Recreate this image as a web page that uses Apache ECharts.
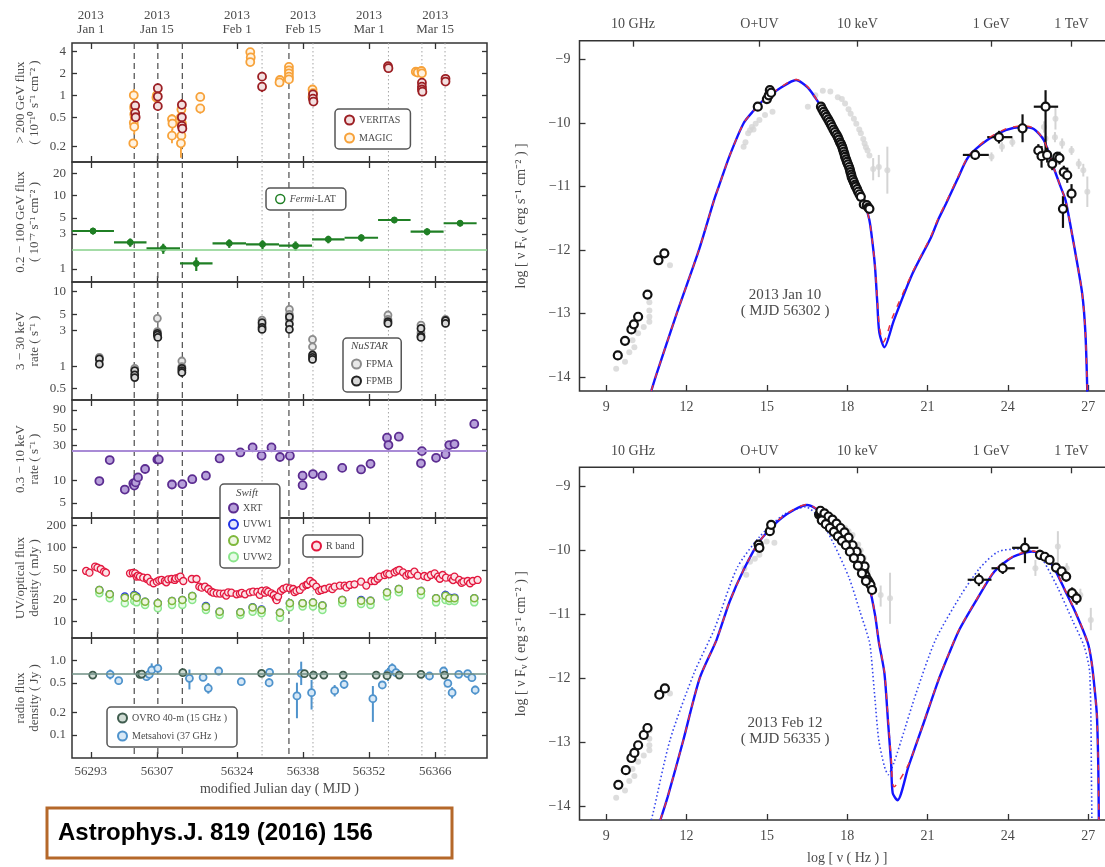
<!DOCTYPE html>
<html>
<head>
<meta charset="utf-8">
<script src="https://cdn.jsdelivr.net/npm/echarts@6/dist/echarts.min.js"></script>
<style>
  html, body { margin: 0; padding: 0; background: #fff; }
  #chart { width: 1105px; height: 867px; }
</style>
</head>
<body>
<div id="chart"></div>
<script>
// ---------------- light-curve data (MJD, value) ----------------
const mjdTicks = [56293, 56307, 56324, 56338, 56352, 56366];
const dateLabels = ['2013\nJan 1', '2013\nJan 15', '2013\nFeb 1', '2013\nFeb 15', '2013\nMar 1', '2013\nMar 15'];
const dashedDays = [56302.2, 56307.2, 56312.4, 56335.0];
const dottedDays = [56329.3, 56340.1, 56356.1, 56363.2, 56368.1];

// > 200 GeV flux: [MJD, flux, error]
const vheMagic = [
  [56302.1, 1.0, 0.22], [56302.2, 0.71, 0.12], [56302.2, 0.66, 0.12], [56302.2, 0.55, 0.1],
  [56302.3, 0.50, 0.1], [56302.1, 0.42, 0.08], [56302.2, 0.37, 0.08], [56302.0, 0.22, 0.03],
  [56307.0, 1.0, 0.15], [56306.9, 0.93, 0.15],
  [56310.2, 0.47, 0.08], [56310.3, 0.41, 0.08], [56310.2, 0.28, 0.06],
  [56312.2, 0.64, 0.25], [56312.1, 0.50, 0.15], [56312.3, 0.41, 0.1], [56312.2, 0.28, 0.1], [56312.1, 0.22, 0.08],
  [56316.2, 0.95, 0.12], [56316.2, 0.66, 0.1],
  [56326.8, 3.9, 0.4], [56326.9, 3.3, 0.3], [56326.8, 2.85, 0.3],
  [56333.1, 1.62, 0.15], [56333.0, 1.5, 0.15],
  [56335.0, 2.45, 0.25], [56335.0, 2.2, 0.2], [56335.0, 2.0, 0.2], [56335.0, 1.8, 0.2], [56335.0, 1.65, 0.2],
  [56340.0, 1.2, 0.15], [56340.1, 1.07, 0.15], [56340.0, 0.95, 0.12],
  [56361.9, 2.1, 0.15], [56362.3, 2.05, 0.15], [56363.1, 2.15, 0.15], [56363.2, 2.0, 0.15]
];
const vheVeritas = [
  [56302.4, 0.72, 0.12], [56302.4, 0.57, 0.1], [56302.5, 0.5, 0.1],
  [56307.2, 1.25, 0.15], [56307.2, 0.96, 0.12], [56307.2, 0.71, 0.1],
  [56312.3, 0.74, 0.15], [56312.3, 0.5, 0.1], [56312.3, 0.38, 0.08], [56312.4, 0.35, 0.08],
  [56329.3, 1.8, 0.2], [56329.3, 1.31, 0.2],
  [56340.1, 1.03, 0.12], [56340.1, 0.9, 0.12], [56340.2, 0.82, 0.1],
  [56356.0, 2.5, 0.2], [56356.1, 2.35, 0.2],
  [56363.2, 1.49, 0.15], [56363.2, 1.31, 0.12], [56363.2, 1.2, 0.12], [56363.3, 1.12, 0.12],
  [56368.2, 1.68, 0.15], [56368.2, 1.54, 0.12]
];

// Fermi-LAT weekly bins: [start MJD, end MJD, flux, error]
const fermiBins = [
  [56289.0, 56297.9, 3.30, 0.35], [56297.9, 56304.8, 2.31, 0.3], [56304.8, 56311.9, 1.91, 0.3],
  [56311.9, 56318.8, 1.19, 0.25], [56318.8, 56325.9, 2.24, 0.3], [56325.9, 56332.9, 2.17, 0.3],
  [56332.9, 56339.9, 2.08, 0.3], [56339.9, 56346.8, 2.54, 0.3], [56346.8, 56353.9, 2.67, 0.3],
  [56353.9, 56360.8, 4.66, 0.45], [56360.8, 56367.8, 3.23, 0.35], [56367.8, 56374.8, 4.21, 0.4]
];
const fermiMean = 1.85;

// NuSTAR 3-30 keV rates
const nustarFPMA = [
  [56294.8, 1.31], [56294.8, 1.2], [56302.3, 0.93], [56302.3, 0.8], [56307.1, 4.38], [56307.1, 2.9],
  [56312.3, 1.17], [56312.3, 0.98], [56329.3, 4.16], [56329.3, 3.56], [56335.1, 5.77], [56335.1, 4.95],
  [56335.1, 4.24], [56340.0, 2.28], [56340.0, 1.82], [56356.0, 4.86], [56356.0, 4.24], [56363.0, 3.56],
  [56363.0, 2.81], [56368.2, 4.24], [56368.2, 3.95]
];
const nustarFPMB = [
  [56294.8, 1.25], [56294.8, 1.06], [56302.3, 0.87], [56302.3, 0.76], [56302.3, 0.70], [56307.1, 2.75],
  [56307.1, 2.6], [56307.2, 2.43], [56312.3, 0.93], [56312.3, 0.87], [56312.3, 0.82], [56329.3, 3.83],
  [56329.3, 3.31], [56329.3, 3.11], [56335.1, 4.6], [56335.1, 3.67], [56335.1, 3.11], [56340.0, 1.41],
  [56340.0, 1.31], [56340.0, 1.23], [56356.0, 3.95], [56356.0, 3.75], [56363.0, 3.21], [56363.0, 2.53],
  [56363.0, 2.43], [56368.2, 4.1], [56368.2, 3.75]
];

// Swift-XRT 0.3-10 keV rates
const xrtRate = [
  [56294.8, 9.9], [56297.0, 19.0], [56300.2, 7.6], [56302.0, 9.2], [56302.2, 8.6], [56302.5, 9.5],
  [56303.0, 11.1], [56304.5, 14.4], [56307.1, 19.4], [56307.4, 19.4], [56310.2, 8.9], [56312.4, 9.0],
  [56314.5, 10.5], [56317.4, 11.7], [56320.3, 20.0], [56324.7, 24.1], [56327.3, 28.2], [56329.2, 21.8],
  [56331.3, 28.2], [56333.1, 20.9], [56335.2, 21.8], [56337.9, 11.7], [56337.9, 8.7], [56340.1, 12.3],
  [56342.1, 11.7], [56346.3, 14.9], [56350.3, 14.2], [56352.3, 16.9], [56355.8, 38.1], [56356.1, 30.3],
  [56358.3, 39.3], [56363.0, 17.2], [56363.2, 25.1], [56366.2, 20.4], [56368.2, 22.7], [56369.0, 30.3],
  [56370.1, 31.3], [56374.3, 58.4]
];
const xrtMean = 25.2;

// R-band flux density (mJy)
const rBand = [
  [56292.0, 48.4], [56292.7, 45.9], [56293.9, 55.4], [56294.4, 53.7], [56295.1, 51.5], [56295.8, 47.4], [56296.2, 45.9],
  [56301.3, 45.0], [56301.9, 45.5], [56302.4, 45.0], [56302.7, 40.6], [56303.0, 42.0], [56303.4, 40.6], [56304.1, 39.3],
  [56304.9, 37.7], [56305.0, 39.0], [56305.6, 34.7], [56306.3, 33.0], [56307.0, 34.7], [56307.5, 36.1], [56308.0, 36.6],
  [56308.7, 35.4], [56309.0, 34.0], [56309.4, 37.3], [56310.1, 37.7], [56310.8, 36.6], [56311.0, 38.5], [56311.6, 39.3],
  [56312.0, 40.6], [56312.6, 35.4], [56314.4, 37.7], [56315.4, 37.7], [56316.0, 29.7], [56316.5, 28.8], [56317.2, 29.7],
  [56317.9, 27.6], [56318.5, 25.5], [56319.0, 24.6], [56319.7, 24.1], [56320.4, 23.9], [56321.2, 23.9], [56321.7, 22.5],
  [56322.1, 24.9], [56322.8, 24.6], [56323.9, 23.4], [56324.6, 23.9], [56325.0, 24.5], [56325.7, 23.4], [56326.7, 24.9],
  [56327.4, 25.4], [56328.3, 25.2], [56328.8, 23.0], [56329.2, 26.0], [56329.9, 24.6], [56330.2, 26.5], [56330.6, 25.4],
  [56331.3, 24.1], [56331.8, 22.9], [56332.2, 20.7], [56332.4, 19.5], [56332.7, 21.8], [56333.3, 26.0], [56333.8, 27.6],
  [56334.5, 28.8], [56335.2, 28.2], [56335.9, 27.6], [56336.2, 25.0], [56336.6, 26.0], [56337.3, 26.8], [56338.0, 29.7],
  [56338.7, 31.3], [56339.0, 32.0], [56339.5, 35.4], [56340.1, 33.0], [56340.8, 29.7], [56341.4, 26.0], [56341.9, 26.8],
  [56342.6, 27.6], [56343.6, 28.8], [56344.2, 27.5], [56344.7, 29.7], [56345.8, 30.7], [56346.8, 30.7], [56347.2, 29.0],
  [56347.9, 31.3], [56348.9, 31.9], [56350.3, 34.7], [56351.4, 30.7], [56352.5, 35.4], [56353.2, 35.4], [56353.8, 38.0],
  [56354.2, 40.6], [56355.3, 42.7], [56355.8, 44.5], [56356.3, 43.6], [56357.4, 46.4], [56357.9, 48.5], [56358.4, 49.9],
  [56359.2, 46.4], [56359.9, 41.8], [56360.4, 44.0], [56360.9, 43.6], [56361.6, 47.4], [56362.3, 41.8], [56363.7, 41.4],
  [56364.4, 40.0], [56365.1, 42.7], [56365.9, 45.0], [56366.6, 40.6], [56367.0, 38.0], [56367.6, 42.7], [56368.3, 39.3],
  [56369.4, 38.5], [56369.8, 36.5], [56370.1, 40.6], [56371.1, 36.6], [56371.6, 33.5], [56372.0, 34.7], [56372.9, 35.4],
  [56373.4, 33.0], [56374.0, 35.4], [56375.0, 36.6]
];

// Swift-UVOT: [MJD, UVW1, UVM2, UVW2] (mJy)
const uvot = [
  [56294.8, 26.8, 26.8, 24.1], [56297.0, 23.4, 23.4, 20.7], [56300.2, 21.8, 21.1, 17.7], [56302.2, 22.9, 22.4, 19.0],
  [56302.7, 21.8, 21.1, 18.2], [56304.5, 18.6, 18.6, 16.8], [56307.2, 17.7, 17.7, 15.1], [56310.2, 19.0, 19.0, 16.8],
  [56312.4, 19.6, 19.6, 16.8], [56314.5, 22.2, 22.2, 19.6], [56317.4, 16.3, 15.9, 14.4], [56320.3, 13.6, 13.6, 12.3],
  [56324.7, 13.4, 13.4, 12.3], [56327.3, 15.6, 15.5, 13.6], [56329.2, 14.6, 14.4, 13.0], [56333.1, 13.2, 13.2, 11.3],
  [56335.2, 17.7, 17.7, 15.6], [56337.9, 17.7, 17.7, 16.0], [56340.1, 18.1, 18.1, 16.0], [56342.1, 16.5, 16.5, 14.4],
  [56346.3, 19.6, 19.6, 17.7], [56350.3, 19.6, 19.2, 17.3], [56352.3, 19.2, 19.2, 16.8], [56355.8, 24.7, 24.7, 21.8],
  [56358.3, 27.6, 27.6, 24.9], [56363.0, 26.0, 26.0, 22.9], [56366.2, 20.7, 20.7, 18.2], [56368.2, 22.9, 22.4, 19.6],
  [56369.0, 21.1, 20.7, 19.0], [56370.1, 21.1, 20.7, 19.0], [56374.3, 20.7, 20.7, 18.2]
];

// radio flux density (Jy)
const ovro = [
  [56293.4, 0.641], [56303.4, 0.655], [56303.8, 0.66], [56312.5, 0.690], [56329.2, 0.676], [56338.3, 0.669],
  [56340.2, 0.641], [56342.4, 0.641], [56346.5, 0.641], [56353.5, 0.641], [56355.8, 0.628], [56358.4, 0.641],
  [56363.0, 0.655], [56368.0, 0.641]
];
const ovroMean = 0.655;
// Metsahovi: [MJD, flux, low, high]
const metsahovi = [
  [56297.1, 0.655, 0.56, 0.76], [56298.9, 0.538, 0.50, 0.58], [56304.8, 0.61, 0.57, 0.65], [56305.4, 0.655, 0.61, 0.70],
  [56305.9, 0.749, 0.61, 0.92], [56307.2, 0.789, 0.73, 0.85], [56313.9, 0.579, 0.41, 0.76], [56316.8, 0.597, 0.55, 0.65],
  [56317.9, 0.424, 0.36, 0.50], [56320.1, 0.726, 0.64, 0.82], [56324.9, 0.522, 0.48, 0.56], [56330.9, 0.697, 0.61, 0.79],
  [56330.8, 0.506, 0.44, 0.58], [56336.7, 0.335, 0.168, 0.506], [56337.6, 0.676, 0.47, 0.97], [56339.8, 0.371, 0.22, 0.55],
  [56344.7, 0.395, 0.33, 0.47], [56346.7, 0.480, 0.42, 0.55], [56352.8, 0.308, 0.15, 0.456], [56354.8, 0.471, 0.43, 0.52],
  [56356.0, 0.676, 0.53, 0.80], [56356.9, 0.789, 0.68, 0.92], [56357.7, 0.690, 0.64, 0.74], [56364.8, 0.622, 0.58, 0.67],
  [56367.8, 0.726, 0.67, 0.79], [56368.7, 0.496, 0.45, 0.55], [56369.6, 0.371, 0.31, 0.44], [56371.0, 0.655, 0.61, 0.70],
  [56372.9, 0.669, 0.62, 0.72], [56373.8, 0.590, 0.55, 0.64], [56374.5, 0.403, 0.35, 0.46]
];

// ---------------- SED data (log nu, log nuFnu) ----------------
const sedTicks = [9, 12, 15, 18, 21, 24, 27];
const sedBandTicks = [10, 14.72, 18.38, 23.38, 26.38];
const sedBandLabels = ['10 GHz', 'O+UV', '10 keV', '1 GeV', '1 TeV'];
const sedYTicks = [-14, -13, -12, -11, -10, -9];

const sedArchiveRadio = [[9.37, -13.87], [9.70, -13.76], [9.86, -13.61], [9.98, -13.42], [10.05, -13.53], [10.19, -13.31],
  [10.40, -13.21], [10.61, -13.13], [10.61, -13.05], [10.61, -12.95], [10.61, -12.82], [11.38, -12.24]];

// 2013 Jan 10
const sedJanRadio = [[9.43, -13.66], [9.70, -13.43], [9.94, -13.25], [10.03, -13.17], [10.19, -13.05], [10.54, -12.70], [10.95, -12.16], [11.17, -12.05]];
const sedJanOpt = [[14.66, -9.74], [15.00, -9.62], [15.07, -9.56], [15.11, -9.48], [15.16, -9.52]];
const sedJanXray = [[17.02, -9.74], [17.07, -9.78], [17.12, -9.82], [17.18, -9.86], [17.23, -9.90], [17.29, -9.94], [17.34, -9.98],
  [17.39, -10.02], [17.44, -10.06], [17.49, -10.10], [17.54, -10.14], [17.60, -10.18], [17.65, -10.22], [17.69, -10.26], [17.73, -10.30],
  [17.77, -10.33], [17.81, -10.37], [17.84, -10.41], [17.87, -10.45], [17.90, -10.49], [17.92, -10.53], [17.96, -10.57], [17.99, -10.61],
  [18.03, -10.65], [18.07, -10.69], [18.10, -10.73], [18.12, -10.77], [18.15, -10.81], [18.17, -10.85], [18.21, -10.89], [18.25, -10.93],
  [18.29, -10.97], [18.32, -11.00], [18.37, -11.04], [18.41, -11.08], [18.46, -11.12], [18.51, -11.16], [18.62, -11.28], [18.73, -11.29],
  [18.79, -11.33], [18.83, -11.35]];
// [x, y, xlow, xhigh, ylow, yhigh]
const sedJanGeV = [[22.78, -10.50, 22.32, 23.29, -10.58, -10.42], [23.67, -10.22, 23.23, 24.17, -10.32, -10.12],
  [24.55, -10.08, 24.55, 24.55, -10.30, -9.86], [25.41, -9.74, 24.97, 25.88, -10.53, -9.48]];
// [x, y, ylow, yhigh]
const sedJanTeV = [[25.14, -10.43, -10.53, -10.33], [25.26, -10.52, -10.70, -10.36], [25.47, -10.50, -10.62, -10.38],
  [25.66, -10.64, -10.74, -10.54], [25.85, -10.53, -10.61, -10.45], [25.93, -10.55, -10.65, -10.45], [26.06, -11.35, -11.65, -11.15],
  [26.09, -10.77, -10.87, -10.67], [26.22, -10.82, -10.94, -10.70], [26.38, -11.11, -11.26, -10.96]];
const sedJanGrayOpt = [[14.13, -10.37], [14.20, -10.30], [14.30, -10.16], [14.37, -10.11], [14.44, -10.06], [14.50, -10.10],
  [14.58, -10.01], [14.72, -9.95], [14.93, -9.87], [15.21, -9.82]];
const sedJanGrayXray = [[16.53, -9.74], [16.81, -9.56], [17.09, -9.49], [17.37, -9.50], [17.65, -9.59], [17.80, -9.62], [17.92, -9.69],
  [18.05, -9.78], [18.13, -9.85], [18.25, -9.93], [18.34, -10.01], [18.45, -10.10], [18.51, -10.16], [18.60, -10.25], [18.65, -10.32],
  [18.70, -10.38], [18.76, -10.43], [18.83, -10.51]];
const sedJanGrayErr = [[18.97, -10.72, -10.90, -10.55], [19.18, -10.69, -10.85, -10.50], [19.50, -10.74, -11.11, -10.37],
  [23.39, -10.53, -10.60, -10.46], [23.78, -10.37, -10.45, -10.30], [24.17, -10.30, -10.37, -10.23], [25.35, -10.06, -10.15, -9.97],
  [25.41, -10.24, -10.33, -10.15], [25.78, -9.93, -10.10, -9.75], [25.76, -10.22, -10.30, -10.14], [26.03, -10.32, -10.40, -10.24],
  [26.38, -10.43, -10.50, -10.36], [26.65, -10.64, -10.72, -10.56], [26.82, -10.74, -10.84, -10.64], [26.97, -11.08, -11.32, -10.84]];
const sedJanModelBlue = [[10.68, -14.22], [10.84, -14.0], [11.63, -13.0], [12.46, -12.0], [13.02, -11.22], [13.2, -11.0], [13.62, -10.5],
  [14.13, -10.0], [14.51, -9.80], [14.86, -9.64], [15.56, -9.43], [16.09, -9.32], [16.53, -9.44], [16.95, -9.69], [17.65, -10.16],
  [18.07, -10.64], [18.41, -11.0], [18.62, -11.22], [18.83, -11.53], [18.95, -11.9], [19.04, -12.27], [19.12, -12.8], [19.2, -13.3],
  [19.39, -13.53], [19.74, -13.11], [20.44, -12.37], [21.13, -11.8], [21.4, -11.52], [21.69, -11.27], [22.1, -10.9], [22.53, -10.53],
  [23.22, -10.27], [23.92, -10.11], [24.54, -10.06], [24.97, -10.09], [25.35, -10.27], [25.66, -10.64], [25.97, -11.0], [26.16, -11.22],
  [26.53, -12.06], [26.78, -12.69], [26.9, -13.32], [26.97, -14.23]];
const sedJanModelRed = [[10.68, -14.22], [10.84, -14.0], [11.63, -13.0], [12.46, -12.0], [13.02, -11.22], [13.2, -11.0], [13.62, -10.5],
  [14.13, -10.0], [14.51, -9.80], [14.86, -9.64], [15.56, -9.42], [16.09, -9.31], [16.53, -9.43], [16.95, -9.69], [17.65, -10.16],
  [18.07, -10.64], [18.41, -11.0], [18.62, -11.22], [18.83, -11.53], [18.95, -11.9], [19.04, -12.25], [19.12, -12.75], [19.2, -13.2],
  [19.35, -13.45], [19.7, -13.05], [20.44, -12.35], [21.13, -11.78], [21.4, -11.5], [21.69, -11.25], [22.1, -10.88], [22.53, -10.52],
  [23.22, -10.25], [23.92, -10.09], [24.54, -10.04], [24.97, -10.08], [25.35, -10.27], [25.66, -10.64], [25.97, -11.0], [26.16, -11.22],
  [26.53, -12.06], [26.78, -12.69], [26.9, -13.32], [26.97, -14.23]];

// 2013 Feb 12
const sedFebRadio = [[9.45, -13.67], [9.73, -13.44], [9.94, -13.25], [10.05, -13.17], [10.19, -13.05], [10.40, -12.89], [10.54, -12.78], [10.98, -12.26], [11.19, -12.16]];
const sedFebOpt = [[14.69, -9.91], [14.72, -9.96], [15.11, -9.70], [15.16, -9.60]];
const sedFebXray = [
  [16.95, -9.44], [17.02, -9.45], [17.09, -9.47], [17.16, -9.50], [17.23, -9.52], [17.30, -9.55], [17.37, -9.57], [17.44, -9.60],
  [17.51, -9.63], [17.58, -9.66], [17.65, -9.70], [17.72, -9.73], [17.79, -9.76], [17.86, -9.80], [17.92, -9.83], [18.00, -9.87],
  [18.07, -9.91], [18.13, -9.96], [18.20, -10.02], [18.27, -10.07], [18.34, -10.12], [18.41, -10.17], [18.48, -10.23], [18.55, -10.28],
  [18.62, -10.33], [18.69, -10.40], [18.76, -10.46], [18.82, -10.50], [18.87, -10.54], [18.93, -10.62],
  [17.00, -9.38], [17.15, -9.42], [17.30, -9.47], [17.45, -9.52], [17.60, -9.58], [17.75, -9.65], [17.90, -9.72], [18.05, -9.80],
  [18.20, -9.92], [18.35, -10.02], [18.50, -10.13], [18.65, -10.25],
  [17.05, -9.53], [17.20, -9.59], [17.35, -9.65], [17.50, -9.71], [17.65, -9.78], [17.80, -9.85], [17.95, -9.92], [18.10, -10.02],
  [18.25, -10.12], [18.40, -10.24], [18.55, -10.36], [18.70, -10.48]];
const sedFebGeV = [[22.92, -10.46, 22.5, 23.39, -10.56, -10.36], [23.81, -10.28, 23.39, 24.26, -10.37, -10.19],
  [24.64, -9.96, 24.16, 25.14, -10.20, -9.80]];
const sedFebTeV = [[25.20, -10.07, -10.15, -9.99], [25.38, -10.10, -10.17, -10.03], [25.56, -10.15, -10.22, -10.08],
  [25.80, -10.27, -10.34, -10.20], [26.01, -10.33, -10.40, -10.26], [26.18, -10.41, -10.49, -10.33], [26.40, -10.67, -10.76, -10.58],
  [26.57, -10.75, -10.85, -10.65]];
const sedFebGrayOpt = [[14.16, -10.28], [14.23, -10.38], [14.37, -10.18], [14.55, -10.13], [14.72, -10.07], [14.99, -9.86], [15.28, -9.88]];
const sedFebGrayXray = [[17.92, -9.65], [18.05, -9.70], [18.2, -9.76], [18.41, -9.91], [18.5, -10.0], [18.62, -10.12], [18.76, -10.33], [18.83, -10.44]];
const sedFebGrayErr = [[19.25, -10.70, -10.88, -10.55], [19.60, -10.75, -11.15, -10.35], [25.03, -10.28, -10.40, -10.15],
  [25.87, -9.94, -10.20, -9.70], [26.2, -10.28, -10.36, -10.20], [26.71, -10.70, -10.80, -10.60], [27.10, -11.09, -11.25, -10.90]];
const sedFebModelBlue = [[11.02, -14.22], [11.30, -13.85], [11.86, -13.0], [12.49, -12.0], [13.12, -11.40], [13.61, -10.80],
  [14.16, -10.28], [14.72, -9.86], [15.56, -9.49], [16.5, -9.29], [17.23, -9.49], [17.92, -9.86], [18.48, -10.28], [18.83, -10.59],
  [19.04, -11.01], [19.18, -11.43], [19.39, -11.92], [19.53, -12.71], [19.64, -13.33], [19.70, -13.80], [19.88, -13.91], [20.29, -13.38],
  [20.85, -12.71], [21.41, -12.03], [21.8, -11.62], [22.18, -11.25], [22.8, -10.80], [23.5, -10.33], [24.2, -10.10], [24.9, -10.02],
  [25.31, -10.07], [25.73, -10.28], [26.15, -10.64], [26.57, -11.01], [26.99, -11.45], [27.13, -11.75], [27.25, -12.2], [27.33, -12.6],
  [27.38, -13.4], [27.40, -14.22]];
const sedFebModelRed = [[11.02, -14.22], [11.30, -13.85], [11.86, -13.0], [12.49, -12.0], [13.12, -11.40], [13.61, -10.80],
  [14.16, -10.28], [14.72, -9.86], [15.56, -9.48], [16.5, -9.28], [17.23, -9.48], [17.92, -9.85], [18.48, -10.27], [18.83, -10.58],
  [19.04, -11.0], [19.18, -11.42], [19.39, -11.9], [19.53, -12.65], [19.64, -13.25], [19.75, -13.70], [20.29, -13.35],
  [20.85, -12.70], [21.41, -12.02], [21.8, -11.61], [22.18, -11.24], [22.8, -10.79], [23.5, -10.32], [24.2, -10.09], [24.9, -10.01],
  [25.31, -10.06], [25.73, -10.27], [26.15, -10.63], [26.57, -11.0], [26.99, -11.45], [27.13, -11.75], [27.25, -12.2], [27.33, -12.6],
  [27.38, -13.4], [27.40, -14.22]];
const sedFebModelDotted = [[10.68, -14.22], [10.75, -14.11], [11.38, -12.97], [12.28, -11.92], [13.05, -11.22], [13.88, -10.28],
  [14.72, -9.79], [15.6, -9.45], [16.45, -9.32], [16.95, -9.49], [17.51, -9.91], [18.07, -10.43], [18.48, -10.96], [18.83, -11.43],
  [18.90, -11.66], [19.04, -12.34], [19.18, -12.97], [19.39, -13.38], [19.53, -13.51], [19.74, -13.33], [20.02, -12.97], [20.57, -12.24],
  [21.3, -11.40], [22.25, -10.70], [22.95, -10.28], [23.64, -10.02], [24.4, -9.98], [25.0, -10.02], [25.31, -10.15], [25.87, -10.59],
  [26.43, -11.11], [26.85, -11.5], [27.06, -11.92], [27.13, -13.8], [27.14, -14.22]];

// ---------------- styling ----------------
const FONT = 'Liberation Serif';
const INK = '#4a4a4a';
const FRAME = '#333';

function nearestLabel(values, labels) {
  return function (v) {
    let best = 0, bd = Infinity;
    for (let i = 0; i < values.length; i++) {
      const d = Math.abs(values[i] - v);
      if (d < bd) { bd = d; best = i; }
    }
    return labels[best];
  };
}

const option = {
  animation: false,
  backgroundColor: '#fff',
  textStyle: { fontFamily: FONT },
  grid: [], xAxis: [], yAxis: [], series: [], legend: [], graphic: []
};

// ---------------- left stacked light-curve panels ----------------
const panels = [
  { top: 43, h: 119, min: 0.122, max: 5.2, ticks: [0.2, 0.5, 1, 2, 4], labels: ['0.2', '0.5', '1', '2', '4'],
    name: '> 200 GeV flux\n( 10⁻¹⁰ s⁻¹ cm⁻² )' },
  { top: 162, h: 120, min: 0.665, max: 28.8, ticks: [1, 3, 5, 10, 20], labels: ['1', '3', '5', '10', '20'],
    name: '0.2 − 100 GeV flux\n( 10⁻⁷ s⁻¹ cm⁻² )' },
  { top: 282, h: 118, min: 0.35, max: 13.5, ticks: [0.5, 1, 3, 5, 10], labels: ['0.5', '1', '3', '5', '10'],
    name: '3 − 30 keV\nrate ( s⁻¹ )' },
  { top: 400, h: 118, min: 3.14, max: 123, ticks: [5, 10, 30, 50, 90], labels: ['5', '10', '30', '50', '90'],
    name: '0.3 − 10 keV\nrate ( s⁻¹ )' },
  { top: 518, h: 120, min: 6.0, max: 252, ticks: [10, 20, 50, 100, 200], labels: ['10', '20', '50', '100', '200'],
    name: 'UV/optical flux\ndensity ( mJy )' },
  { top: 638, h: 120, min: 0.049, max: 2.02, ticks: [0.1, 0.2, 0.5, 1], labels: ['0.1', '0.2', '0.5', '1.0'],
    name: 'radio flux\ndensity ( Jy )' }
];

const vlineData = dashedDays.map(d => [d, 1, 0]).concat(dottedDays.map(d => [d, 1, 1]));

panels.forEach((p, i) => {
  option.grid.push({ left: 72, top: p.top, width: 415, height: p.h, show: true, borderColor: FRAME, borderWidth: 1.5,
    backgroundColor: 'rgba(0,0,0,0)', containLabel: false, outerBoundsMode: 'none' });
  const xBase = {
    type: 'value', gridIndex: i, min: 56289, max: 56377,
    axisLine: { show: false }, splitLine: { show: false },
    axisTick: { show: true, inside: true, length: 6, lineStyle: { color: FRAME, width: 1.3 }, customValues: mjdTicks },
  };
  option.xAxis.push(Object.assign({}, xBase, {
    position: 'bottom',
    axisLabel: { show: i === 5, customValues: mjdTicks, margin: 7, fontFamily: FONT, fontSize: 13, color: INK,
      formatter: v => String(Math.round(v)) },
    name: i === 5 ? 'modified Julian day ( MJD )' : '', nameLocation: 'middle', nameGap: 24,
    nameTextStyle: { fontFamily: FONT, fontSize: 14, color: INK }
  }));
  option.xAxis.push(Object.assign({}, xBase, {
    position: 'top',
    axisLabel: { show: i === 0, customValues: mjdTicks, margin: 6, fontFamily: FONT, fontSize: 13, lineHeight: 14, color: INK,
      formatter: nearestLabel(mjdTicks, dateLabels) }
  }));
  const yBase = {
    type: 'log', logBase: 10, gridIndex: i, min: p.min, max: p.max,
    axisLine: { show: false }, splitLine: { show: false }, minorTick: { show: false },
    axisTick: { show: true, inside: true, length: 5, lineStyle: { color: FRAME, width: 1.3 }, customValues: p.ticks }
  };
  const logLabel = v => {
    let best = 0, bd = Infinity;
    p.ticks.forEach((t, k) => { const d = Math.abs(Math.log10(t) - Math.log10(v)); if (d < bd) { bd = d; best = k; } });
    return p.labels[best];
  };
  option.yAxis.push(Object.assign({}, yBase, {
    position: 'left',
    axisLabel: { show: true, customValues: p.ticks, margin: 6, fontFamily: FONT, fontSize: 13, color: INK, formatter: logLabel },
    name: p.name, nameLocation: 'middle', nameRotate: 90, nameGap: 30,
    nameTextStyle: { fontFamily: FONT, fontSize: 13, lineHeight: 14, color: INK }
  }));
  option.yAxis.push(Object.assign({}, yBase, { position: 'right', axisLabel: { show: false } }));

  // vertical guide lines marking the SED epochs and NuSTAR pointings
  option.series.push({
    type: 'custom', xAxisIndex: 2 * i, yAxisIndex: 2 * i, data: vlineData, z: 1, silent: true,
    renderItem: function (params, api) {
      const x = api.coord([api.value(0), api.value(1)])[0];
      const cs = params.coordSys;
      const dotted = api.value(2) === 1;
      return {
        type: 'line', shape: { x1: x, y1: cs.y, x2: x, y2: cs.y + cs.height },
        style: dotted ? { stroke: '#a5a5a5', lineWidth: 1, lineDash: [1.5, 2.5] }
                      : { stroke: '#5a5a5a', lineWidth: 1.3, lineDash: [6, 4] }
      };
    }
  });
});

function ax(i) { return { xAxisIndex: 2 * i, yAxisIndex: 2 * i }; }

function ring(name, data, axes, stroke, fill, size, bw, z) {
  return Object.assign({
    type: 'scatter', name: name, data: data, symbol: 'circle', symbolSize: size,
    itemStyle: { color: fill, borderColor: stroke, borderWidth: bw, opacity: 1 },
    emphasis: { disabled: true }, silent: true, z: z || 4
  }, axes);
}

// error bars: items are [x, y, xlow, xhigh, ylow, yhigh]
function errBars(data, axes, color, width, z) {
  return Object.assign({
    type: 'custom', data: data, z: z || 3, silent: true,
    renderItem: function (params, api) {
      const x = api.value(0), y = api.value(1);
      const xl = api.value(2), xh = api.value(3), yl = api.value(4), yh = api.value(5);
      const children = [];
      if (yl !== yh) {
        const a = api.coord([x, yl]), b = api.coord([x, yh]);
        children.push({ type: 'line', shape: { x1: a[0], y1: a[1], x2: b[0], y2: b[1] }, style: { stroke: color, lineWidth: width } });
      }
      if (xl !== xh) {
        const a = api.coord([xl, y]), b = api.coord([xh, y]);
        children.push({ type: 'line', shape: { x1: a[0], y1: a[1], x2: b[0], y2: b[1] }, style: { stroke: color, lineWidth: width } });
      }
      return { type: 'group', children: children };
    }
  }, axes);
}

function hline(value, axes, color, width) {
  return Object.assign({
    type: 'line', data: [], silent: true, z: 2,
    markLine: { silent: true, symbol: 'none', label: { show: false }, animation: false,
      lineStyle: { color: color, width: width, type: 'solid' }, data: [{ yAxis: value }] }
  }, axes);
}

const C = {
  veritas: '#9c1f24', magic: '#f7a23a', fermi: '#1f7f24', fermiLine: '#86d08a',
  fpma: '#8c8c8c', fpmb: '#222', xrt: '#5c2d91', xrtFill: '#b7a0da', xrtLine: '#a98bd6',
  uvw1: '#2233e6', uvm2: '#7fb83c', uvw2: '#8ae58a', rband: '#e3173e',
  ovro: '#3f5c4e', mets: '#4f93cc', radioLine: '#6f8f85'
};

// panel 1: VHE
const vheErr = arr => arr.map(d => [d[0], d[1], d[0], d[0], d[1] - d[2], d[1] + d[2]]);
option.series.push(errBars(vheErr(vheMagic), ax(0), C.magic, 1.8));
option.series.push(errBars(vheErr(vheVeritas), ax(0), C.veritas, 1.8));
option.series.push(ring('MAGIC', vheMagic.map(d => [d[0], d[1]]), ax(0), C.magic, '#fff3e2', 8, 1.8));
option.series.push(ring('VERITAS', vheVeritas.map(d => [d[0], d[1]]), ax(0), C.veritas, '#f3e0e0', 8, 1.8));

// panel 2: Fermi-LAT
option.series.push(hline(fermiMean, ax(1), C.fermiLine, 1.5));
option.series.push(errBars(fermiBins.map(b => [(b[0] + b[1]) / 2, b[2], b[0], b[1], b[2] - b[3], b[2] + b[3]]), ax(1), C.fermi, 2.2));
option.series.push(ring('Fermi-LAT', fermiBins.map(b => [(b[0] + b[1]) / 2, b[2]]), ax(1), C.fermi, C.fermi, 6, 1));

// panel 3: NuSTAR
option.series.push(ring('FPMA', nustarFPMA, ax(2), C.fpma, '#e8e8e8', 7, 1.8));
option.series.push(ring('FPMB', nustarFPMB, ax(2), C.fpmb, '#d8d8d8', 7, 1.8));

// panel 4: Swift-XRT
option.series.push(hline(xrtMean, ax(3), C.xrtLine, 2));
option.series.push(ring('XRT', xrtRate, ax(3), C.xrt, C.xrtFill, 8, 1.8));

// panel 5: UV / optical
option.series.push(ring('R band', rBand, ax(4), C.rband, '#fbe3e7', 7, 1.3));
option.series.push(ring('UVW2', uvot.map(d => [d[0], d[3]]), ax(4), C.uvw2, '#e8fbe8', 7, 1.5));
option.series.push(ring('UVM2', uvot.map(d => [d[0], d[2]]), ax(4), C.uvm2, '#eef6e2', 7, 1.5));
option.series.push(ring('UVW1', uvot.map(d => [d[0], d[1]]), ax(4), C.uvw1, '#e6e8fb', 7, 1.5, 3));

// panel 6: radio
option.series.push(hline(ovroMean, ax(5), C.radioLine, 1.5));
option.series.push(errBars(metsahovi.map(d => [d[0], d[1], d[0], d[0], d[2], d[3]]), ax(5), C.mets, 2));
option.series.push(ring('Metsahovi (37 GHz )', metsahovi.map(d => [d[0], d[1]]), ax(5), C.mets, '#d7e8f6', 7, 1.8));
option.series.push(ring('OVRO 40-m (15 GHz )', ovro, ax(5), C.ovro, '#d0dcd5', 7, 1.8));

// ---------------- legends ----------------
function legendBox(left, top, names, padding, gap, extra) {
  return Object.assign({
    left: left, top: top, orient: 'vertical', data: names, selectedMode: false,
    itemWidth: 9, itemHeight: 9, itemGap: gap, itemTextGap: 6, padding: padding,
    borderColor: '#555', borderWidth: 1.5, borderRadius: 4, backgroundColor: '#fff', z: 20,
    textStyle: { fontFamily: FONT, fontSize: 10, color: INK, lineHeight: 12 }
  }, extra || {});
}
option.legend.push(legendBox(335, 109, ['VERITAS', 'MAGIC'], [5, 10, 5, 9], 6));
option.legend.push(legendBox(266, 188, [{ name: 'Fermi-LAT', itemStyle: { color: '#fff', borderColor: C.fermi, borderWidth: 1.5 } }],
  [5, 10, 5, 9], 6, {
    formatter: () => '{i|Fermi}-LAT',
    textStyle: { fontFamily: FONT, fontSize: 10, color: INK, lineHeight: 12, rich: { i: { fontStyle: 'italic', fontFamily: FONT, fontSize: 10, color: INK } } }
  }));
option.legend.push(legendBox(343, 338, ['FPMA', 'FPMB'], [20, 8, 5, 8], 5));
option.legend.push(legendBox(220, 484, ['XRT', 'UVW1', 'UVM2', 'UVW2'], [18, 8, 5, 8], 4.3));
option.legend.push(legendBox(303, 535, ['R band'], [5, 8, 5, 8], 6));
option.legend.push(legendBox(107, 707, ['OVRO 40-m (15 GHz )', 'Metsahovi (37 GHz )'], [5, 10, 5, 10], 6));

option.graphic.push({ type: 'text', left: 351, top: 341, z: 30, silent: true,
  style: { text: 'NuSTAR', font: 'italic 11px "Liberation Serif"', fill: INK } });
option.graphic.push({ type: 'text', left: 236, top: 488, z: 30, silent: true,
  style: { text: 'Swift', font: 'italic 11px "Liberation Serif"', fill: INK } });

// ---------------- right-hand SED panels ----------------
const sedGrids = [{ top: 40.7, h: 350.3 }, { top: 467.3, h: 352.7 }];
sedGrids.forEach((g, k) => {
  const gi = 6 + k;
  option.grid.push({ left: 579.5, top: g.top, width: 535.4, height: g.h, show: true, borderColor: FRAME, borderWidth: 1.5,
    backgroundColor: 'rgba(0,0,0,0)', containLabel: false, outerBoundsMode: 'none' });
  option.xAxis.push({
    type: 'value', gridIndex: gi, min: 8, max: 28, position: 'bottom',
    axisLine: { show: false }, splitLine: { show: false },
    axisTick: { show: true, inside: true, length: 6, lineStyle: { color: FRAME, width: 1.3 }, customValues: sedTicks },
    axisLabel: { customValues: sedTicks, margin: 9, fontFamily: FONT, fontSize: 14, color: INK, formatter: v => String(Math.round(v)) },
    name: k === 1 ? 'log [ ν ( Hz ) ]' : '', nameLocation: 'middle', nameGap: 31,
    nameTextStyle: { fontFamily: FONT, fontSize: 14, color: INK }
  });
  option.xAxis.push({
    type: 'value', gridIndex: gi, min: 8, max: 28, position: 'top',
    axisLine: { show: false }, splitLine: { show: false },
    axisTick: { show: true, inside: true, length: 6, lineStyle: { color: FRAME, width: 1.3 }, customValues: sedBandTicks },
    axisLabel: { customValues: sedBandTicks, margin: 9, fontFamily: FONT, fontSize: 14, color: INK,
      formatter: nearestLabel(sedBandTicks, sedBandLabels) }
  });
  option.yAxis.push({
    type: 'value', gridIndex: gi, min: -14.22, max: -8.70, position: 'left',
    axisLine: { show: false }, splitLine: { show: false },
    axisTick: { show: true, inside: true, length: 6, lineStyle: { color: FRAME, width: 1.3 }, customValues: sedYTicks },
    axisLabel: { customValues: sedYTicks, margin: 9, fontFamily: FONT, fontSize: 14, color: INK,
      formatter: v => (v < 0 ? '−' : '') + Math.abs(Math.round(v)) },
    name: '{n|log [ ν F}{s|ν}{n| ( erg s⁻¹ cm⁻² ) ]}', nameLocation: 'middle', nameRotate: 90, nameGap: 50,
    nameTextStyle: { fontFamily: FONT, fontSize: 14, color: INK,
      rich: { n: { fontFamily: FONT, fontSize: 14, color: INK }, s: { fontFamily: FONT, fontSize: 10, color: INK, verticalAlign: 'bottom', padding: [6, 0, 0, 0] } } }
  });
});

function sx(k) { return { xAxisIndex: 12 + 2 * k, yAxisIndex: 12 + k }; }
const GRAY = '#d4d4d4';
const gray = (data, k) => Object.assign({ type: 'scatter', data: data, symbol: 'circle', symbolSize: 6,
  itemStyle: { color: GRAY }, silent: true, z: 2 }, sx(k));
const black = (data, k) => ring('', data, sx(k), '#111', '#fff', 8, 2.2, 7);
const modelLine = (data, k, color, width, type, z) => Object.assign({
  type: 'line', data: data, showSymbol: false, symbol: 'none', smooth: 0.25, silent: true, z: z,
  lineStyle: { color: color, width: width, type: type }
}, sx(k));

const SED = [
  { radio: sedJanRadio, opt: sedJanOpt, xray: sedJanXray, gev: sedJanGeV, tev: sedJanTeV,
    gOpt: sedJanGrayOpt, gX: sedJanGrayXray, gErr: sedJanGrayErr, blue: sedJanModelBlue, red: sedJanModelRed, dotted: null },
  { radio: sedFebRadio, opt: sedFebOpt, xray: sedFebXray, gev: sedFebGeV, tev: sedFebTeV,
    gOpt: sedFebGrayOpt, gX: sedFebGrayXray, gErr: sedFebGrayErr, blue: sedFebModelBlue, red: sedFebModelRed, dotted: sedFebModelDotted }
];
SED.forEach((s, k) => {
  option.series.push(gray(sedArchiveRadio.concat(s.gOpt, s.gX), k));
  option.series.push(errBars(s.gErr.map(d => [d[0], d[1], d[0], d[0], d[2], d[3]]), sx(k), GRAY, 2, 1));
  option.series.push(gray(s.gErr.map(d => [d[0], d[1]]), k));
  if (s.dotted) option.series.push(modelLine(s.dotted, k, '#3344ee', 1.6, [1.5, 2.5], 4));
  option.series.push(modelLine(s.blue, k, '#1414ff', 2.4, 'solid', 5));
  option.series.push(modelLine(s.red, k, '#e8323c', 1.5, [6, 7], 6));
  option.series.push(errBars(s.gev, sx(k), '#111', 2.2, 6));
  option.series.push(errBars(s.tev.map(d => [d[0], d[1], d[0], d[0], d[2], d[3]]), sx(k), '#111', 2.2, 6));
  option.series.push(black(s.radio.concat(s.opt, s.xray, s.gev.map(d => [d[0], d[1]]), s.tev.map(d => [d[0], d[1]])), k));
});

// epoch annotations in the SED panels
const sedNotes = [['2013 Jan 10', '( MJD 56302 )', 303], ['2013 Feb 12', '( MJD 56335 )', 731]];
sedNotes.forEach(n => {
  option.graphic.push({ type: 'text', x: 785, y: n[2], z: 30, silent: true,
    style: { text: n[0] + '\n' + n[1], font: '15px "Liberation Serif"', fill: INK, align: 'center', verticalAlign: 'middle', lineHeight: 16 } });
});

// citation box
option.graphic.push({ type: 'rect', z: 30, silent: true, shape: { x: 47, y: 808, width: 405, height: 50 },
  style: { fill: '#fff', stroke: '#b5682a', lineWidth: 3 } });
option.graphic.push({ type: 'text', x: 58, y: 833, z: 31, silent: true,
  style: { text: 'Astrophys.J. 819 (2016) 156', font: 'bold 24px "Liberation Sans"', fill: '#000', verticalAlign: 'middle' } });

const chart = echarts.init(document.getElementById('chart'), null, { renderer: 'canvas' });
chart.setOption(option);
</script>
</body>
</html>
